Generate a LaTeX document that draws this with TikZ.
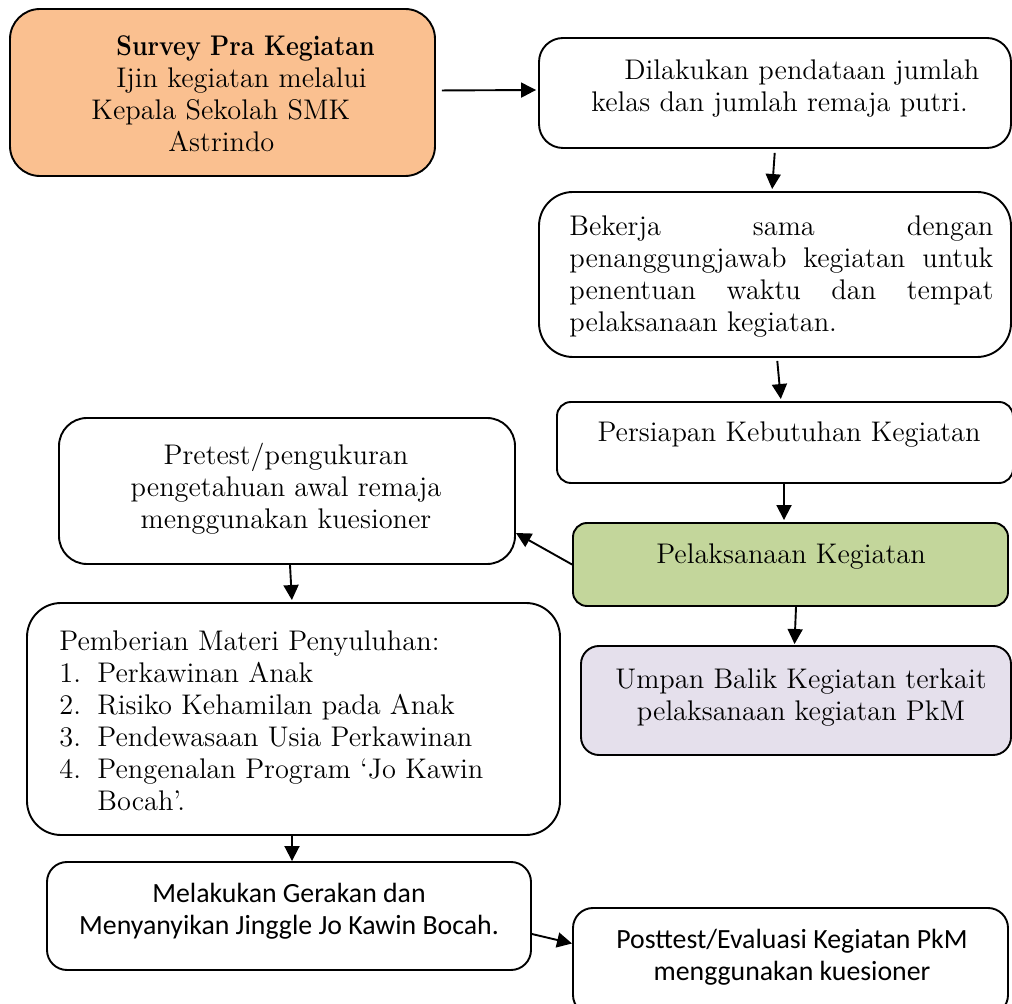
\documentclass[tikz,border=0pt]{standalone}
\usepackage{fontspec}
\newfontfamily\calfont{Carlito}
\usepackage{graphicx}
\usepackage{tikz}
\usetikzlibrary{arrows.meta}
\definecolor{orangebox}{HTML}{FAC090}
\definecolor{greenbox}{HTML}{C3D69B}
\definecolor{lilacbox}{HTML}{E5E0EC}
\setlength{\parindent}{0pt}

\begin{document}
\begin{tikzpicture}[x=0.5pt, y=-0.5pt,
        box/.style={draw, line width=0.95pt, inner sep=0pt},
        t/.style={inner sep=0pt, font=\fontsize{14.2}{16}\selectfont},
        s/.style={inner sep=0pt, font=\calfont\fontsize{13.9}{16}\selectfont},
        arr/.style={line width=0.95pt, -{Triangle[length=7.5pt,width=7.5pt]}}]
            \useasboundingbox (0,0) rectangle (1012,1004);

            \node[box, rounded corners=15pt, fill=orangebox, minimum width=212.5pt, minimum height=83.5pt] (survey) at (222.5,92.5) {};
            \node[box, rounded corners=12pt, minimum width=236pt, minimum height=55pt] (dilak) at (775,93) {};
            \node[box, rounded corners=17pt, minimum width=236pt, minimum height=82.5pt] (kerja) at (775,274.5) {};
            \node[box, rounded corners=7pt, minimum width=228pt, minimum height=40.5pt] (siap) at (785,442.5) {};
            \node[box, rounded corners=7pt, fill=greenbox, minimum width=217.5pt, minimum height=41.5pt] (laks) at (790.5,564.5) {};
            \node[box, rounded corners=9pt, fill=lilacbox, minimum width=215pt, minimum height=54.5pt] (umpan) at (796,700.5) {};
            \node[box, rounded corners=14pt, minimum width=228pt, minimum height=73pt] (pre) at (287,491) {};
            \node[box, rounded corners=17pt, minimum width=266.5pt, minimum height=116pt] (materi) at (293.5,719) {};
            \node[box, rounded corners=10pt, minimum width=242pt, minimum height=54pt] (gerak) at (289,916) {};
            \node[box, rounded corners=10pt, minimum width=217.5pt, minimum height=53.5pt] (post) at (790.5,961.5) {};

            \node[t, anchor=north west, align=left] (surveytxt) at (91,35) {\hspace*{12.5pt}\scalebox{0.88}[1]{\textbf{Survey Pra Kegiatan}}\\ \hspace*{12.5pt}Ijin kegiatan melalui\\ Kepala Sekolah SMK\\ \hspace*{38.5pt}Astrindo};
            \node[t, anchor=north west, align=left] (dilaktxt) at (591,59) {\hspace*{16.5pt}Dilakukan pendataan jumlah\\ kelas dan jumlah remaja putri.};
            \node[t, anchor=north west, text width=212pt, align=justify] (kerjatxt) at (569,215) {Bekerja sama dengan\linebreak penanggungjawab kegiatan untuk\linebreak penentuan waktu dan tempat\linebreak pelaksanaan kegiatan.};
            \node[t, anchor=base] (siaptxt) at (789,442) {Persiapan Kebutuhan Kegiatan};
            \node[t, anchor=base] (lakstxt) at (791,564) {Pelaksanaan Kegiatan};
            \node[t, anchor=north, align=center] (umpantxt) at (801,668) {Umpan Balik Kegiatan terkait\\ pelaksanaan kegiatan PkM};
            \node[t, anchor=north, align=center] (pretxt) at (286,443) {Pretest/pengukuran\\ pengetahuan awal remaja\\ menggunakan kuesioner};
            \node[t, anchor=north west, align=left] (materitxt) at (59,630) {Pemberian Materi Penyuluhan:\\ \makebox[19pt][l]{1.}Perkawinan Anak\\ \makebox[19pt][l]{2.}Risiko Kehamilan pada Anak\\ \makebox[19pt][l]{3.}Pendewasaan Usia Perkawinan\\ \makebox[19pt][l]{4.}Pengenalan Program `Jo Kawin\\ \hspace*{19pt}Bocah'.};
            \node[s, anchor=north, align=center] (geraktxt) at (289,883) {Melakukan Gerakan dan\\ Menyanyikan Jinggle Jo Kawin Bocah.};
            \node[s, anchor=north, align=center] (posttxt) at (792,929) {Posttest/Evaluasi Kegiatan PkM\\ menggunakan kuesioner};

            \draw[arr, shorten <=3pt, shorten >=1pt] ([yshift=1pt]survey.east) -- ([yshift=1.5pt]dilak.west);
            \draw[arr, shorten <=2pt, shorten >=1pt] (dilak.south) -- ([xshift=-1.5pt]kerja.north);
            \draw[arr, shorten <=1.5pt, shorten >=1pt] ([xshift=1pt]kerja.south) -- ([xshift=-2pt]siap.north);
            \draw[arr, shorten >=1pt] ([xshift=-0.5pt]siap.south) -- ([xshift=-3.25pt]laks.north);
            \draw[arr] (laks.west) -- ([yshift=-21pt]pre.east);
            \draw[arr, shorten >=0.5pt] ([xshift=2.75pt]laks.south) -- ([xshift=-0.75pt]umpan.north);
            \draw[arr, shorten >=1pt] ([xshift=1.5pt]pre.south) -- ([xshift=-0.75pt]materi.north);
            \draw[arr] ([xshift=-0.75pt]materi.south) -- ([xshift=1.5pt]gerak.north);
            \draw[arr] ([yshift=-9pt]gerak.east) -- ([yshift=9pt]post.west);
        \end{tikzpicture}
\end{document}
